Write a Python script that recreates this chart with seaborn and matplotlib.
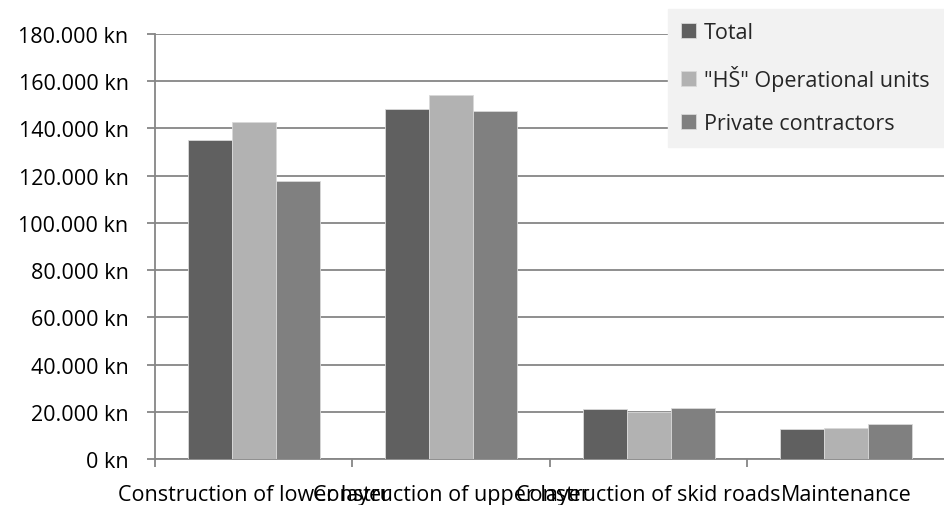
import matplotlib
matplotlib.use("Agg")
import matplotlib.pyplot as plt
import seaborn as sns
import pandas as pd
from matplotlib.ticker import FuncFormatter, MultipleLocator, FixedLocator

categories = ["Construction of lower layer", "Construction of upper layer",
              "Construction of skid roads", "Maintenance"]
series_names = ["Total", "\"HŠ\" Operational units", "Private contractors"]
total = [135100, 148200, 21100, 12500]
hs_units = [142700, 154000, 19900, 13300]
private = [117700, 147200, 21600, 14800]
colors = ["#606060", "#b2b2b2", "#808080"]

rows = []
for name, vals in zip(series_names, [total, hs_units, private]):
    for cat, v in zip(categories, vals):
        rows.append({"category": cat, "series": name, "cost": v})
df = pd.DataFrame(rows)

sns.set_theme(style="white")
plt.rcParams["font.family"] = ["Open Sans", "DejaVu Sans"]
FS = 15.5

fig = plt.figure(figsize=(9.45, 5.06), dpi=100)
ax = fig.add_axes([155 / 945, 1 - 460 / 506, 790 / 945, 425 / 506])

sns.barplot(data=df, x="category", y="cost", hue="series", order=categories,
            hue_order=series_names, palette=colors, width=0.67, gap=0,
            edgecolor="#d9d9d9", linewidth=0.6, ax=ax, zorder=3)

ax.set_xlim(-0.5, 3.5)
ax.set_ylim(0, 180000)
ax.yaxis.set_major_locator(MultipleLocator(20000))
ax.yaxis.set_major_formatter(FuncFormatter(
    lambda v, p: "0 kn" if v == 0 else f"{int(v):,} kn".replace(",", ".")))
ax.grid(axis="y", color="#868686", linewidth=1.3, zorder=0)
ax.set_axisbelow(True)

for s in ["top", "right"]:
    ax.spines[s].set_visible(False)
for s in ["left", "bottom"]:
    ax.spines[s].set_color("#868686")
    ax.spines[s].set_linewidth(1.3)

ax.tick_params(axis="y", which="major", length=6, width=1.3, color="#868686",
               left=True, labelsize=FS, labelcolor="black", pad=13)
ax.tick_params(axis="x", which="major", length=0, labelsize=FS,
               labelcolor="black", pad=18)
ax.xaxis.set_minor_locator(FixedLocator([-0.5, 0.5, 1.5, 2.5, 3.5]))
ax.tick_params(axis="x", which="minor", length=6, width=1.3, color="#868686",
               bottom=True)

ax.set_xlabel("")
ax.set_ylabel("")

handles, labels = ax.get_legend_handles_labels()
ax.legend(handles, labels, loc="upper left",
          bbox_to_anchor=(668 / 945, 1 - 145 / 506, 277 / 945, 135 / 506),
          mode="expand", bbox_transform=fig.transFigure, frameon=True, fancybox=False,
          facecolor="#f2f2f2", edgecolor="#f2f2f2", framealpha=1,
          fontsize=FS, handlelength=0.7, handleheight=0.7, handletextpad=0.35,
          labelspacing=1.03, borderpad=0.6, borderaxespad=0)

fig.savefig("out.png", dpi=100, facecolor="white")
